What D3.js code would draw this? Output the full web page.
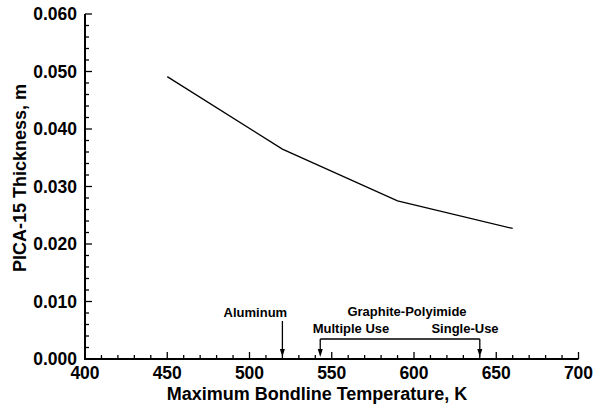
<!DOCTYPE html>
<html>
<head>
<script src="https://d3js.org/d3.v7.min.js"></script>
<style>
  body{margin:0;background:#fff;}
  text{font-family:"Liberation Sans",Arial,sans-serif;font-weight:bold;fill:#000;}
  .tick-label{font-size:17.5px;}
  .axis-title{font-size:18px;}
  .note{font-size:13px;}
</style>
</head>
<body>
<script>
// data
var temps=[450,520,590,660];
var thickness=[0.0491,0.0365,0.0275,0.0227];
var xTicks=[400,450,500,550,600,650,700];
var yTicks=[0,0.01,0.02,0.03,0.04,0.05,0.06];
var aluminumTemp=520;
var gpMultiTemp=543;
var gpSingleTemp=640;

var width=605,height=406;
var svg=d3.select("body").append("svg").attr("width",width).attr("height",height);

var x=d3.scaleLinear().domain([400,700]).range([85,578.5]);
var y=d3.scaleLinear().domain([0,0.06]).range([359,14]);

var g=svg.append("g");

// minor + major ticks, drawn inward
var xMinor=d3.range(400,701,10);
g.selectAll(".xt").data(xMinor).enter().append("line")
  .attr("x1",d=>x(d)).attr("x2",d=>x(d))
  .attr("y1",y(0)).attr("y2",d=>y(0)-(d%50==0?7:4))
  .attr("stroke","#000").attr("stroke-width",1.3);

var yMinor=d3.range(0,61,2).map(d=>d/1000);
g.selectAll(".yt").data(yMinor).enter().append("line")
  .attr("y1",d=>y(d)).attr("y2",d=>y(d))
  .attr("x1",x(400)).attr("x2",(d,i)=>x(400)+(i%5==0?7:4))
  .attr("stroke","#000").attr("stroke-width",1.3);

// axis lines
g.append("path").attr("d","M"+x(400)+","+y(0.06)+"V"+y(0)+"H"+x(700))
  .attr("fill","none").attr("stroke","#000").attr("stroke-width",2);

g.selectAll(".xl").data(xTicks).enter().append("text").attr("class","tick-label")
  .attr("x",d=>x(d)).attr("y",y(0)+20).attr("text-anchor","middle").text(d=>d);

g.selectAll(".yl").data(yTicks).enter().append("text").attr("class","tick-label")
  .attr("x",x(400)-8).attr("y",d=>y(d)).attr("dy","0.36em").attr("text-anchor","end")
  .text(d=>d3.format(".3f")(d));

g.append("text").attr("class","axis-title").attr("x",317).attr("y",400)
  .attr("text-anchor","middle").text("Maximum Bondline Temperature, K");
g.append("text").attr("class","axis-title")
  .attr("transform","translate(26,178) rotate(-90)")
  .attr("text-anchor","middle").text("PICA-15 Thickness, m");

// data line
var line=d3.line().x(d=>x(d[0])).y(d=>y(d[1]));
g.append("path").datum(temps.map((t,i)=>[t,thickness[i]]))
  .attr("d",line).attr("fill","none").attr("stroke","#000").attr("stroke-width",1.3);

// annotations
function arrow(xv,y0){
  var xp=x(xv),tip=y(0)-2;
  g.append("line").attr("x1",xp).attr("x2",xp).attr("y1",y0).attr("y2",tip-6)
    .attr("stroke","#000").attr("stroke-width",1.3);
  g.append("path").attr("d","M"+(xp-2.5)+","+(tip-8)+"L"+xp+","+tip+"L"+(xp+2.5)+","+(tip-8)+"Z")
    .attr("fill","#000");
}
arrow(aluminumTemp,321);
arrow(gpMultiTemp,339);
arrow(gpSingleTemp,339);
g.append("line").attr("x1",x(gpMultiTemp)).attr("x2",x(gpSingleTemp))
  .attr("y1",339).attr("y2",339).attr("stroke","#000").attr("stroke-width",1.3);

g.append("text").attr("class","note").attr("x",x(aluminumTemp)-27).attr("y",317)
  .attr("text-anchor","middle").text("Aluminum");
g.append("text").attr("class","note").attr("x",407).attr("y",316)
  .attr("text-anchor","middle").text("Graphite-Polyimide");
g.append("text").attr("class","note").attr("x",351).attr("y",333)
  .attr("text-anchor","middle").text("Multiple Use");
g.append("text").attr("class","note").attr("x",465).attr("y",333)
  .attr("text-anchor","middle").text("Single-Use");
</script>
</body>
</html>
